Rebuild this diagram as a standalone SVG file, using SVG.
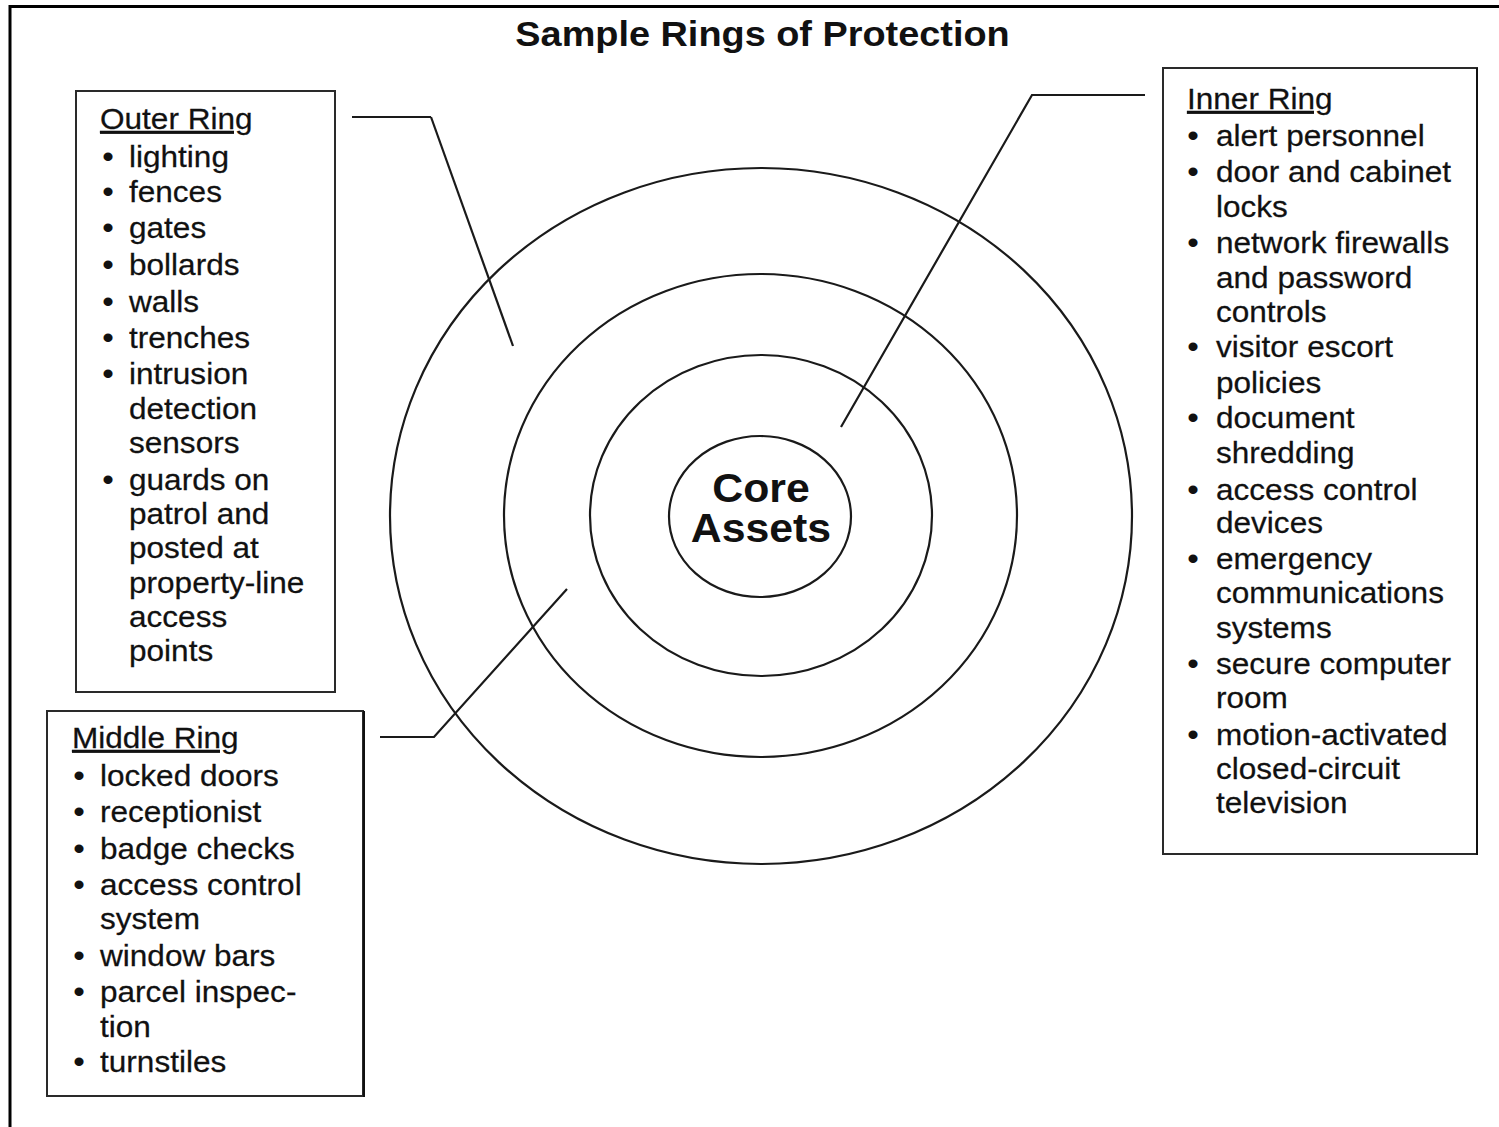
<svg xmlns="http://www.w3.org/2000/svg" width="1499" height="1127" viewBox="0 0 1499 1127">
<style>
text{font-family:"Liberation Sans",Arial,sans-serif;fill:#111}
.t{font-size:29.5px;stroke:#111;stroke-width:0.25}
.u{font-size:29.5px;font-weight:bold}
.h{font-size:29.5px;text-decoration:underline;stroke:#111;stroke-width:0.25}
.box{fill:#fff;stroke:#2a2a2a;stroke-width:2}
.ring{fill:none;stroke:#1a1a1a;stroke-width:2.2}
.con{fill:none;stroke:#1a1a1a;stroke-width:2.2}
.b{font-weight:bold}
</style>
<rect width="1499" height="1127" fill="#fff"/>
<rect x="10" y="6.5" width="1500" height="1130" fill="none" stroke="#000" stroke-width="3"/>
<g id="title" transform="translate(762.5 0) scale(1.07 1)">
<text class="b" x="0" y="46" font-size="35.4" text-anchor="middle">Sample Rings of Protection</text>
</g>
<g id="rings">
<ellipse class="ring" cx="761" cy="516" rx="371" ry="348"/>
<ellipse class="ring" cx="760.5" cy="515.5" rx="256.5" ry="241.5"/>
<ellipse class="ring" cx="761" cy="515.5" rx="171" ry="160.5"/>
</g>
<g id="core">
<ellipse class="ring" cx="760" cy="516.5" rx="91" ry="80.5"/>
<g transform="translate(761 0) scale(1.07 1)">
<text class="b" x="0" y="502" font-size="40" text-anchor="middle">Core</text>
<text class="b" x="0" y="542" font-size="40" text-anchor="middle">Assets</text>
</g>
</g>
<g id="connectors">
<path class="con" d="M352 117 H431" stroke-width="3"/>
<path class="con" d="M431 117 L513 346"/>
<path class="con" d="M380 737 H434 L567 589"/>
<path class="con" d="M1145 95 H1032 L841 427"/>
</g>
<g id="outer-ring">
<rect class="box" x="76" y="91" width="259" height="601"/>
<g transform="translate(100 0) scale(1.07 1)">
<text class="h" x="0" y="129">Outer Ring</text>
<text class="u" x="2.3" y="167">•</text><text class="t" x="27.1" y="167">lighting</text>
<text class="u" x="2.3" y="202">•</text><text class="t" x="27.1" y="202">fences</text>
<text class="u" x="2.3" y="238">•</text><text class="t" x="27.1" y="238">gates</text>
<text class="u" x="2.3" y="275">•</text><text class="t" x="27.1" y="275">bollards</text>
<text class="u" x="2.3" y="312">•</text><text class="t" x="27.1" y="312">walls</text>
<text class="u" x="2.3" y="348">•</text><text class="t" x="27.1" y="348">trenches</text>
<text class="u" x="2.3" y="384">•</text><text class="t" x="27.1" y="384">intrusion</text>
<text class="t" x="27.1" y="419">detection</text>
<text class="t" x="27.1" y="453">sensors</text>
<text class="u" x="2.3" y="490">•</text><text class="t" x="27.1" y="490">guards on</text>
<text class="t" x="27.1" y="524">patrol and</text>
<text class="t" x="27.1" y="558">posted at</text>
<text class="t" x="27.1" y="593">property-line</text>
<text class="t" x="27.1" y="627">access</text>
<text class="t" x="27.1" y="661">points</text>
</g>
</g>
<g id="middle-ring">
<rect class="box" x="47" y="711" width="316" height="385"/>
<line x1="364" y1="711" x2="364" y2="1097" stroke="#111" stroke-width="2"/>
<g transform="translate(72 0) scale(1.07 1)">
<text class="h" x="0" y="748">Middle Ring</text>
<text class="u" x="1.3" y="786">•</text><text class="t" x="26.2" y="786">locked doors</text>
<text class="u" x="1.3" y="822">•</text><text class="t" x="26.2" y="822">receptionist</text>
<text class="u" x="1.3" y="859">•</text><text class="t" x="26.2" y="859">badge checks</text>
<text class="u" x="1.3" y="895">•</text><text class="t" x="26.2" y="895">access control</text>
<text class="t" x="26.2" y="929">system</text>
<text class="u" x="1.3" y="966">•</text><text class="t" x="26.2" y="966">window bars</text>
<text class="u" x="1.3" y="1002">•</text><text class="t" x="26.2" y="1002">parcel inspec-</text>
<text class="t" x="26.2" y="1037">tion</text>
<text class="u" x="1.3" y="1072">•</text><text class="t" x="26.2" y="1072">turnstiles</text>
</g>
</g>
<g id="inner-ring">
<rect class="box" x="1163" y="68" width="314" height="786"/>
<line x1="1477" y1="68" x2="1477" y2="855" stroke="#111" stroke-width="2"/>
<g transform="translate(1187 0) scale(1.07 1)">
<text class="h" x="0" y="109">Inner Ring</text>
<text class="u" x="0.4" y="146">•</text><text class="t" x="27.1" y="146">alert personnel</text>
<text class="u" x="0.4" y="182">•</text><text class="t" x="27.1" y="182">door and cabinet</text>
<text class="t" x="27.1" y="217">locks</text>
<text class="u" x="0.4" y="253">•</text><text class="t" x="27.1" y="253">network firewalls</text>
<text class="t" x="27.1" y="288">and password</text>
<text class="t" x="27.1" y="322">controls</text>
<text class="u" x="0.4" y="357">•</text><text class="t" x="27.1" y="357">visitor escort</text>
<text class="t" x="27.1" y="393">policies</text>
<text class="u" x="0.4" y="428">•</text><text class="t" x="27.1" y="428">document</text>
<text class="t" x="27.1" y="463">shredding</text>
<text class="u" x="0.4" y="500">•</text><text class="t" x="27.1" y="500">access control</text>
<text class="t" x="27.1" y="533">devices</text>
<text class="u" x="0.4" y="569">•</text><text class="t" x="27.1" y="569">emergency</text>
<text class="t" x="27.1" y="603">communications</text>
<text class="t" x="27.1" y="638">systems</text>
<text class="u" x="0.4" y="674">•</text><text class="t" x="27.1" y="674">secure computer</text>
<text class="t" x="27.1" y="708">room</text>
<text class="u" x="0.4" y="745">•</text><text class="t" x="27.1" y="745">motion-activated</text>
<text class="t" x="27.1" y="779">closed-circuit</text>
<text class="t" x="27.1" y="813">television</text>
</g>
</g>
</svg>
